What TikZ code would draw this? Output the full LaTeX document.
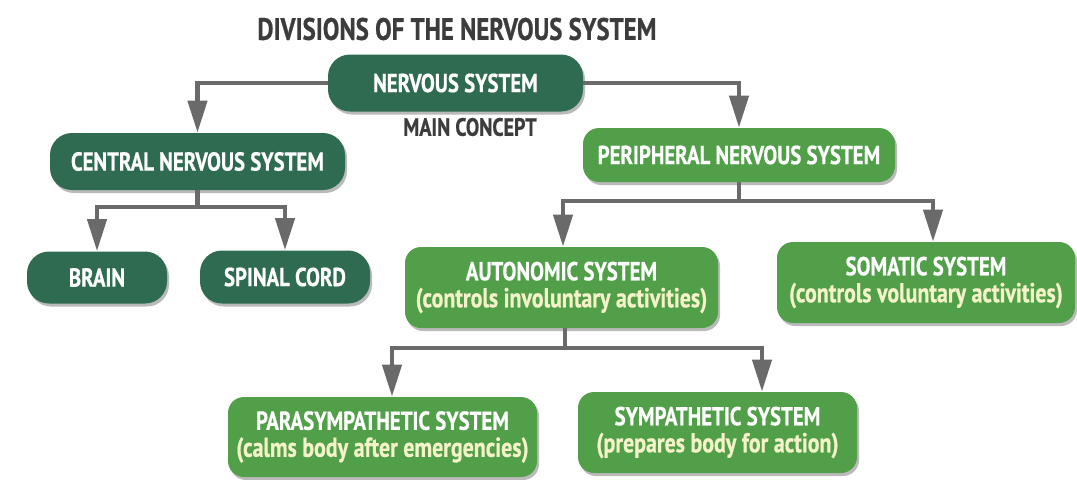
\documentclass[tikz,border=0pt]{standalone}
\usepackage{fontspec}
\newfontfamily\cf[FakeStretch=0.8, BoldFeatures={FakeBold=0.6}]{PT Sans}
\usetikzlibrary{arrows.meta,shadows,calc}
\definecolor{dkgreen}{HTML}{2F6B50}
\definecolor{ltgreen}{HTML}{51A049}
\definecolor{subtxt}{HTML}{F4F2C8}
\definecolor{conncol}{HTML}{6A6A6A}
\definecolor{titlecol}{HTML}{3C3C3C}
\tikzset{
  box/.style={inner sep=0pt, align=center, text=white,
    font=\cf\bfseries\fontsize{13}{13.5}\selectfont,
    drop shadow={shadow xshift=1pt, shadow yshift=-1.5pt, fill=black!45, opacity=0.6}},
  darkbox/.style={box, fill=dkgreen, rounded corners=11pt},
  lightbox/.style={box, fill=ltgreen, rounded corners=8pt},
  conn/.style={draw=conncol, line width=2.2pt},
  arr/.style={conn, -{Triangle[width=9.5pt,length=16pt]}},
  heading/.style={text=titlecol, font=\cf\bfseries\fontsize{12.5}{15}\selectfont},
  bigheading/.style={text=titlecol, font=\cf\bfseries\fontsize{15.5}{18}\selectfont}
}
\newcommand{\sub}[1]{{\fontsize{13.7}{13.5}\selectfont\textcolor{subtxt}{#1}}}
\begin{document}
\begin{tikzpicture}[x=0.5pt,y=-0.5pt]
\useasboundingbox (0,0) rectangle (1077,479);
\fill[white] (0,0) rectangle (1077,479);

\node[bigheading] (title) at (457,29) {DIVISIONS OF THE NERVOUS SYSTEM};
\node[darkbox, minimum width=127.5pt, minimum height=28.5pt] (ns) at (455.5,83) {NERVOUS SYSTEM};
\node[heading] (mc) at (470,127) {MAIN CONCEPT};

\node[darkbox, minimum width=147.5pt, minimum height=28.5pt] (cns) at (197.5,161.5) {CENTRAL NERVOUS SYSTEM};
\node[darkbox, minimum width=70pt, minimum height=26pt] (brain) at (97,277.5) {BRAIN};
\node[darkbox, minimum width=85pt, minimum height=26.5pt] (spinal) at (285,277) {SPINAL CORD};

\node[lightbox, minimum width=156pt, minimum height=27pt] (pns) at (739,155) {PERIPHERAL NERVOUS SYSTEM};
\node[lightbox, minimum width=156.5pt, minimum height=40.5pt] (auto) at (561.5,287.5) {AUTONOMIC SYSTEM\\ \sub{(controls involuntary activities)}};
\node[lightbox, minimum width=149pt, minimum height=40.5pt] (soma) at (926,282.5) {SOMATIC SYSTEM\\ \sub{(controls voluntary activities)}};
\node[lightbox, minimum width=154.5pt, minimum height=40pt] (para) at (382.5,437) {PARASYMPATHETIC SYSTEM\\ \sub{(calms body after emergencies)}};
\node[lightbox, minimum width=139.5pt, minimum height=40.5pt] (symp) at (717.5,432.5) {SYMPATHETIC SYSTEM\\ \sub{(prepares body for action)}};

% connectors
\draw[arr] (ns.west) -| (cns.north);
\draw[arr] (ns.east) -| (pns.north);

\coordinate (cj) at (197.5,207);
\draw[conn] (cns.south) -- (cj);
\draw[arr] (cj) -| (brain.north);
\draw[arr] (cj) -| (spinal.north);

\coordinate (pj) at (739,201);
\draw[conn] (pns.south) -- (pj);
\draw[arr] (pj) -| ($(auto.north)+(1.5,0)$);
\draw[arr] (pj) -| ($(soma.north)+(7,0)$);

\coordinate (aj) at (565,348);
\draw[conn] ($(auto.south)+(3.5,0)$) -- (aj);
\draw[arr] (aj) -| ($(para.north)+(9.5,0)$);
\draw[arr] (aj) -| ($(symp.north)+(44.5,0)$);
\end{tikzpicture}
\end{document}
